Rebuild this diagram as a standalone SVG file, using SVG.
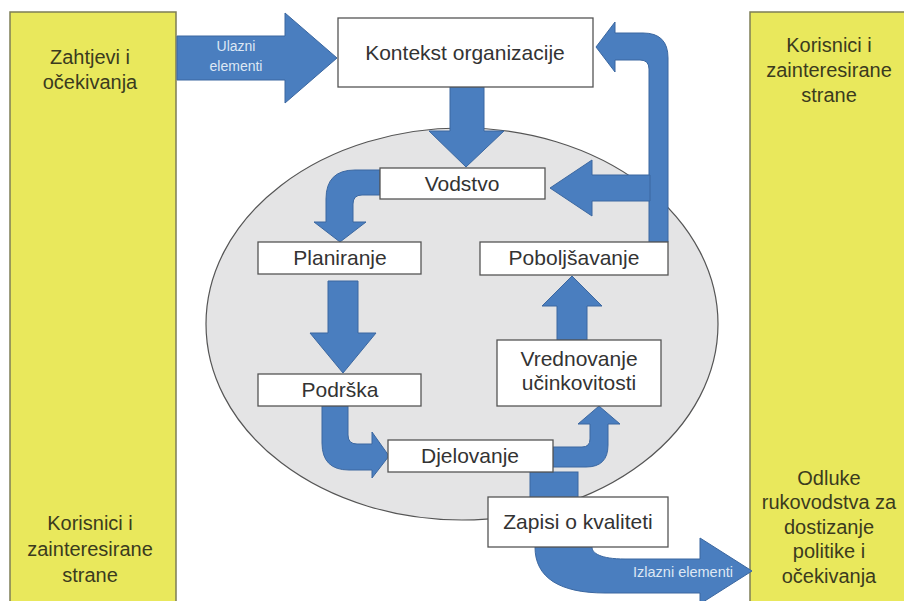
<svg xmlns="http://www.w3.org/2000/svg" width="904" height="601" viewBox="0 0 904 601">
<style>
.yel{fill:#e9e85c;stroke:#7d7d55;stroke-width:1.5}
.ytxt{font-family:"Liberation Sans",Arial,sans-serif;font-size:20px;fill:#3b3b1e;text-anchor:middle}
.box{fill:#ffffff;stroke:#555555;stroke-width:1.3}
.btxt{font-family:"Liberation Sans",Arial,sans-serif;font-size:21px;fill:#333333;text-anchor:middle}
.arr{fill:#4a7ebf;stroke:#3b67a0;stroke-width:1}
.atxt{font-family:"Liberation Sans",Arial,sans-serif;fill:#dde7f4;text-anchor:middle}
</style>
<rect width="904" height="601" fill="#ffffff"/>
<g id="left-panel">
<rect class="yel" x="10" y="12" width="166" height="600"/>
<text class="ytxt" x="90" y="64">Zahtjevi i</text>
<text class="ytxt" x="90" y="89">očekivanja</text>
<text class="ytxt" x="90" y="530">Korisnici i</text>
<text class="ytxt" x="90" y="556">zainteresirane</text>
<text class="ytxt" x="90" y="582">strane</text>
</g>
<g id="right-panel">
<rect class="yel" x="750" y="12" width="160" height="600"/>
<text class="ytxt" x="829" y="52">Korisnici i</text>
<text class="ytxt" x="829" y="77">zainteresirane</text>
<text class="ytxt" x="829" y="102">strane</text>
<text class="ytxt" x="829" y="485">Odluke</text>
<text class="ytxt" x="829" y="509">rukovodstva za</text>
<text class="ytxt" x="829" y="534">dostizanje</text>
<text class="ytxt" x="829" y="558">politike i</text>
<text class="ytxt" x="829" y="583">očekivanja</text>
</g>
<ellipse id="cycle" cx="462" cy="324" rx="256" ry="196" fill="#e4e4e5" stroke="#555555" stroke-width="1.2"/>
<g id="connectors">
<path class="arr" d="M177,36 L285,36 L285,13 L337,58 L285,103 L285,80 L177,80 Z"/>
<text class="atxt" x="236" y="51" font-size="14">Ulazni</text>
<text class="atxt" x="236" y="71" font-size="14">elementi</text>
<path class="arr" d="M450,87 L484,87 L484,131 L504,131 L466,167 L429,131 L450,131 Z"/>
<path class="arr" d="M380,170 L355,170 Q326,170 326,199 L326,222 L314,222 L340,242 L366,222 L353,222 L353,204 Q353,195 362,195 L380,195 Z"/>
<path class="arr" d="M328,281 L358,281 L358,333 L376,333 L343,373 L310,333 L328,333 Z"/>
<path class="arr" d="M322,406 L322,443 Q322,470 349,470 L372,470 L372,478 L389,456 L372,432 L372,444 L357,444 Q348,444 348,435 L348,406 Z"/>
<path class="arr" d="M553,447 L582,447 Q590,447 590,439 L590,424 L578,424 L599,406 L620,424 L608,424 L608,445 Q608,467 586,467 L553,467 Z"/>
<path class="arr" d="M557,340 L557,306 L542,306 L572,276 L602,306 L587,306 L587,340 Z"/>
<path class="arr" d="M668,242 L668,58 Q668,33 643,33 L615,33 L615,22 L596,47 L615,72 L615,60 L640,60 Q649,60 649,69 L649,242 Z"/>
<path class="arr" d="M650,175 L592,175 L592,160 L550,188 L592,216 L592,201 L650,201 Z"/>
<rect class="arr" x="530" y="472" width="48" height="26"/>
<path class="arr" d="M535,547 C535,578 560,593 605,593 L700,593 L700,604 L752,571 L700,538 L700,559 L625,559 C600,559 592,553 592,547 Z"/>
<text class="atxt" x="683" y="577" font-size="14.5">Izlazni elementi</text>
</g>
<g id="kontekst"><rect class="box" x="338" y="18" width="255" height="69"/><text class="btxt" x="465" y="60">Kontekst organizacije</text></g>
<g id="vodstvo"><rect class="box" x="380" y="168" width="165" height="31"/><text class="btxt" x="462" y="191">Vodstvo</text></g>
<g id="planiranje"><rect class="box" x="258" y="242" width="163" height="32"/><text class="btxt" x="340" y="265">Planiranje</text></g>
<g id="podrska"><rect class="box" x="258" y="374" width="163" height="32"/><text class="btxt" x="340" y="397">Podrška</text></g>
<g id="djelovanje"><rect class="box" x="388" y="440" width="165" height="32"/><text class="btxt" x="470" y="463">Djelovanje</text></g>
<g id="vrednovanje"><rect class="box" x="497" y="340" width="164" height="66"/><text class="btxt" x="579" y="366">Vrednovanje</text><text class="btxt" x="579" y="390">učinkovitosti</text></g>
<g id="poboljsavanje"><rect class="box" x="480" y="242" width="188" height="33"/><text class="btxt" x="574" y="265">Poboljšavanje</text></g>
<g id="zapisi"><rect class="box" x="488" y="497" width="180" height="50"/><text class="btxt" x="578" y="529">Zapisi o kvaliteti</text></g>
</svg>
